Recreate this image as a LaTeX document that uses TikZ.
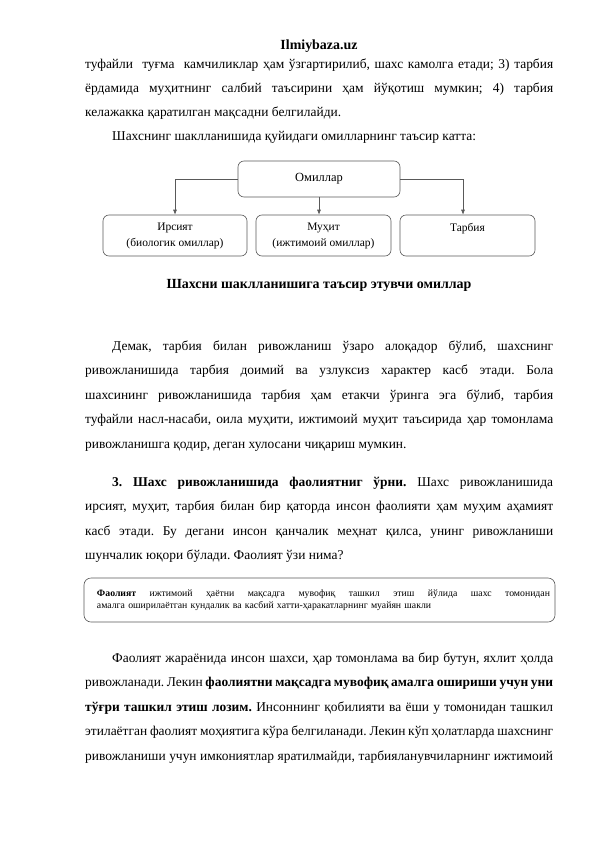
\documentclass[tikz,border=0pt]{standalone}
\usepackage{fontspec}
\setmainfont{Liberation Serif}
\usetikzlibrary{arrows.meta}
\frenchspacing
\newcommand\bodyfs{\fontsize{13.5}{16}\selectfont}
\newcommand\jline[1]{\makebox[468bp][s]{#1}}
\newcommand\jind[1]{\makebox[441bp][s]{#1}}
\tikzset{
  txt/.style={anchor=base west, inner sep=0pt, font=\bodyfs},
  boxst/.style={draw=black!65, rounded corners=6bp, line width=0.6bp, align=center, inner sep=2bp},
  arr/.style={draw=black!65, line width=0.6bp, -{Latex[length=5bp,width=4bp]}}
}
\begin{document}
\begin{tikzpicture}[x=1bp,y=-1bp]
\useasboundingbox (0,0) rectangle (596,842);
% header
\node[anchor=base, inner sep=0pt, font=\fontsize{14}{16}\selectfont\bfseries] (hdr) at (319,49.5) {Ilmiybaza.uz};
% paragraph 1
\node[txt] (p1a) at (85,68.5) {\jline{туфайли\ \ туғма\ \ камчиликлар ҳам ўзгартирилиб, шахс камолга етади; 3) тарбия}};
\node[txt] (p1b) at (85,92.5) {\jline{ёрдамида муҳитнинг салбий таъсирини ҳам йўқотиш мумкин; 4) тарбия}};
\node[txt] (p1c) at (85,116.5) {келажакка қаратилган мақсадни белгилайди.};
\node[txt] (p1d) at (112,140.5) {Шахснинг шаклланишида қуйидаги омилларнинг таъсир катта:};
% diagram
\node[boxst, minimum width=162bp, minimum height=36bp, font=\fontsize{12.5}{15}\selectfont] (om) at (319,179) {Омиллар};
\node[boxst, minimum width=144bp, minimum height=41bp, font=\fontsize{11.5}{16}\selectfont] (b1) at (175,235.5) {Ирсият\\(биологик омиллар)};
\node[boxst, minimum width=135bp, minimum height=41bp, font=\fontsize{11.5}{16}\selectfont] (b2) at (323.5,235.5) {Муҳит\\(ижтимоий омиллар)};
\node[boxst, minimum width=135bp, minimum height=41bp, font=\fontsize{11.5}{16}\selectfont] (b3) at (467.5,235.5) {Тарбия\\\mbox{}};
\draw[arr] (om.west) -| (b1.north);
\draw[arr] (om.south) -- (om.south |- b2.north);
\draw[arr] (om.east) -| ([xshift=-4.5bp]b3.north);
% caption
\node[anchor=base, inner sep=0pt, font=\fontsize{14}{16}\selectfont\bfseries] (cap) at (319,288) {Шахсни шаклланишига таъсир этувчи омиллар};
% paragraph 2
\node[txt] (p2a) at (112,350) {\jind{Демак, тарбия билан ривожланиш ўзаро алоқадор бўлиб, шахснинг}};
\node[txt] (p2b) at (85,374.5) {\jline{ривожланишида тарбия доимий ва узлуксиз характер касб этади. Бола}};
\node[txt] (p2c) at (85,399) {\jline{шахсининг ривожланишида тарбия ҳам етакчи ўринга эга бўлиб, тарбия}};
\node[txt] (p2d) at (85,423.5) {\jline{туфайли насл-насаби, оила муҳити, ижтимоий муҳит таъсирида ҳар томонлама}};
\node[txt] (p2e) at (85,448) {ривожланишга қодир, деган хулосани чиқариш мумкин.};
% paragraph 3
\node[txt] (p3a) at (112,486) {\jind{\textbf{3. Шахс ривожланишида фаолиятниг ўрни.} Шахс ривожланишида}};
\node[txt] (p3b) at (85,510.5) {\jline{ирсият, муҳит, тарбия билан бир қаторда инсон фаолияти ҳам муҳим аҳамият}};
\node[txt] (p3c) at (85,535) {\jline{касб этади. Бу дегани инсон қанчалик меҳнат қилса, унинг ривожланиши}};
\node[txt] (p3d) at (85,559.5) {шунчалик юқори бўлади. Фаолият ўзи нима?};
% definition box
\node[boxst, rounded corners=7bp, minimum width=471bp, minimum height=44bp, text width=445bp, inner xsep=13bp, align=left, font=\fontsize{9.8}{12.3}\selectfont] (fb) at (319.5,600) {\makebox[453bp][s]{\spaceskip=0pt\xspaceskip=0pt\textbf{Фаолият} ижтимоий ҳаётни мақсадга мувофиқ ташкил этиш йўлида шахс томонидан}\\амалга оширилаётган кундалик ва касбий хатти-ҳаракатларнинг муайян шакли};
% paragraph 4
\node[txt] (p4a) at (112,662) {\jind{Фаолият жараёнида инсон шахси, ҳар томонлама ва бир бутун, яхлит ҳолда}};
\node[txt] (p4b) at (85,686.5) {\jline{ривожланади. Лекин \textbf{фаолиятни мақсадга мувофиқ амалга ошириши учун уни}}};
\node[txt] (p4c) at (85,711) {\jline{\textbf{тўғри ташкил этиш лозим.} Инсоннинг қобилияти ва ёши у томонидан ташкил}};
\node[txt] (p4d) at (85,735.5) {\jline{этилаётган фаолият моҳиятига кўра белгиланади. Лекин кўп ҳолатларда шахснинг}};
\node[txt] (p4e) at (85,760) {\jline{ривожланиши учун имкониятлар яратилмайди, тарбияланувчиларнинг ижтимоий}};
\end{tikzpicture}
\end{document}
